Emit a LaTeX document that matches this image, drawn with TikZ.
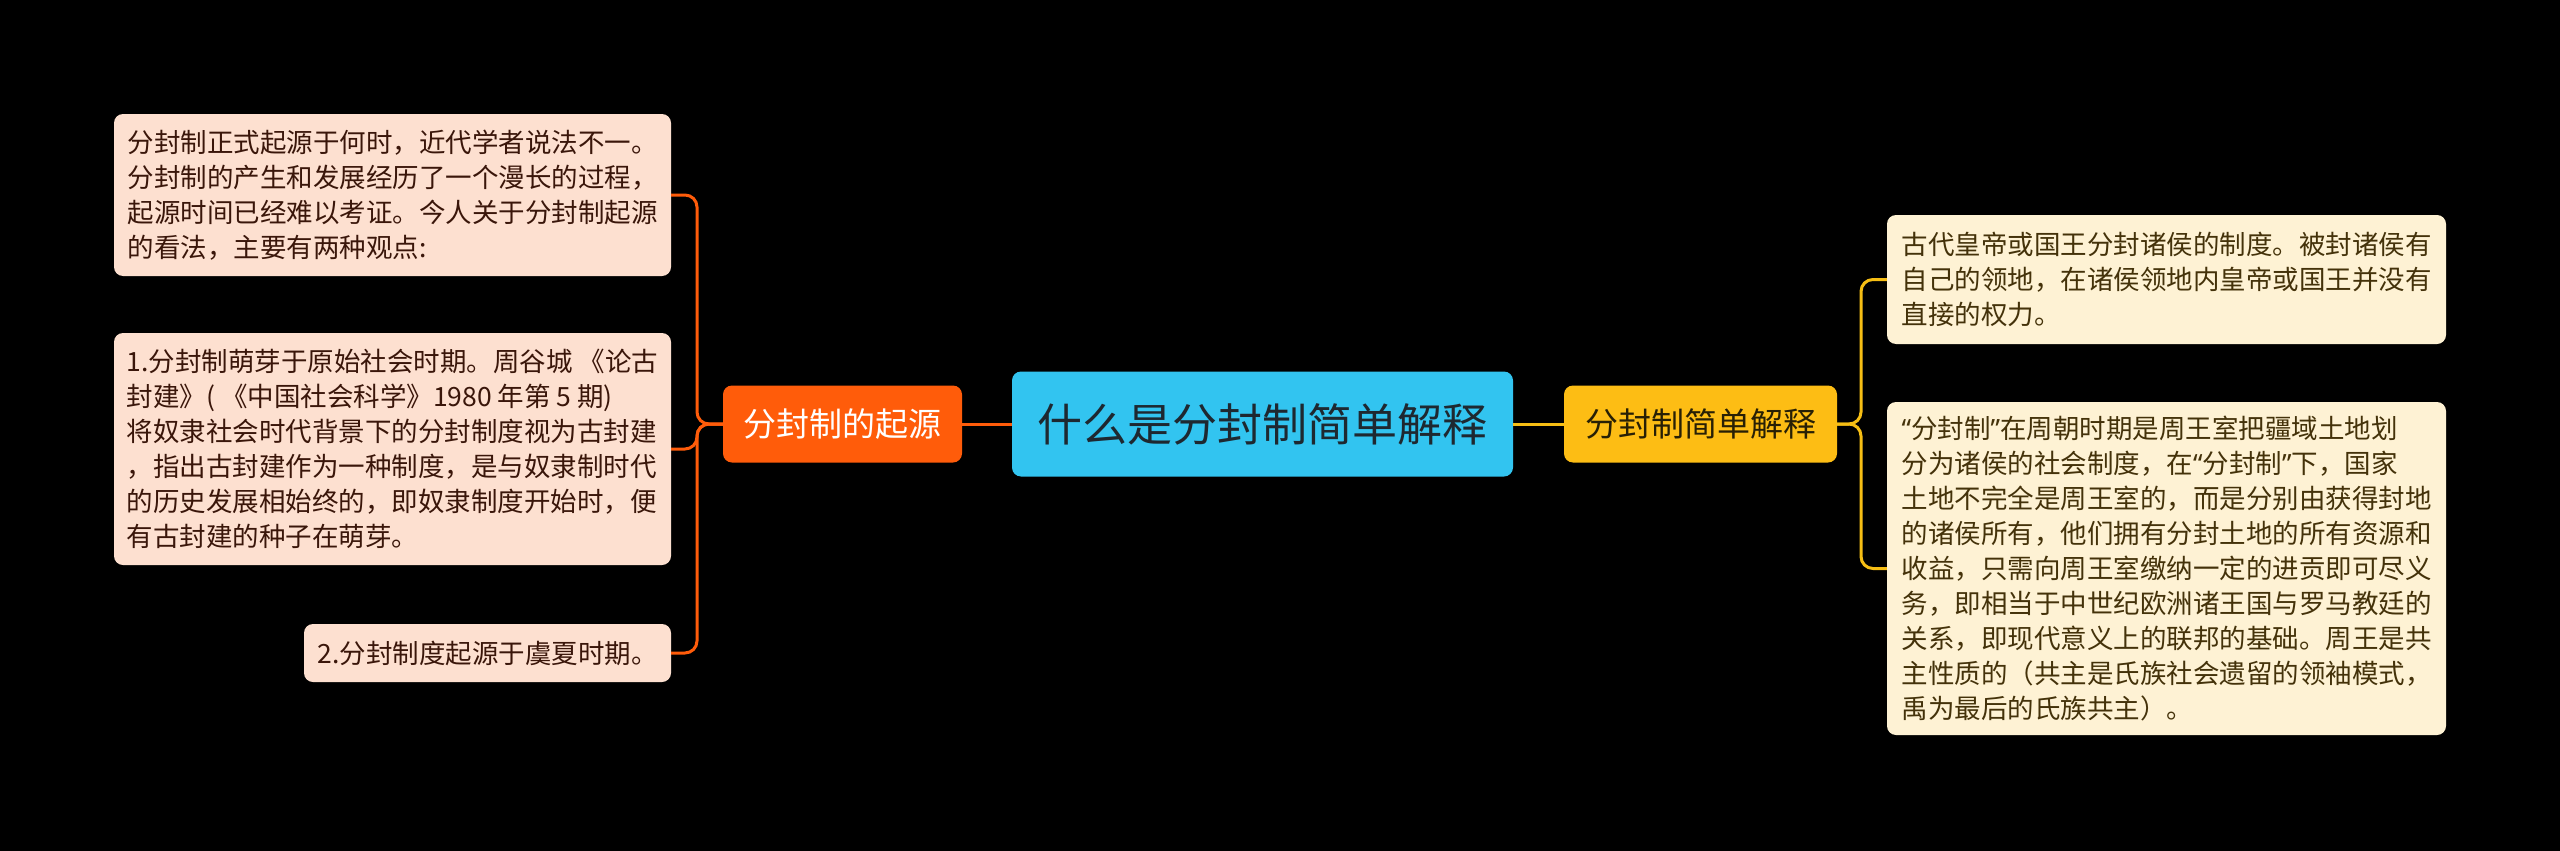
\documentclass[tikz,border=0pt]{standalone}
\usepackage{fontspec}
\newfontfamily\cjk{Noto Sans CJK SC}
\newfontfamily\latq{Noto Sans}
\newcommand{\oq}{{\latq “}}
\newcommand{\cq}{{\latq ”}}
\definecolor{bg}{RGB}{0,0,0}
\definecolor{orangeA}{RGB}{255,92,10}
\definecolor{lfill}{RGB}{253,224,208}
\definecolor{ltext}{RGB}{58,22,10}
\definecolor{cfill}{RGB}{50,196,240}
\definecolor{ctext}{RGB}{30,40,48}
\definecolor{yfill}{RGB}{253,189,20}
\definecolor{ytext}{RGB}{40,32,5}
\definecolor{rfill}{RGB}{254,242,212}
\definecolor{rtext}{RGB}{68,50,10}
\definecolor{ylinec}{RGB}{246,190,20}
\begin{document}
\begin{tikzpicture}[x=1pt,y=-1pt,
  box/.style={rounded corners=9pt, align=left, inner xsep=0pt, inner ysep=0pt, font=\cjk\fontsize{26.5pt}{35pt}\selectfont},
  lbox/.style={box, fill=lfill, text=ltext},
  rbox/.style={box, fill=rfill, text=rtext},
  branch/.style={rounded corners=9pt, inner sep=0pt, minimum height=77pt, font=\cjk\fontsize{33pt}{40pt}\selectfont},
  oline/.style={draw=orangeA, line width=3pt},
  ylink/.style={draw=ylinec, line width=3pt},
]
\fill[bg] (0,0) rectangle (2560,851);
\useasboundingbox (0,0) rectangle (2560,851);

% central topic
\node[fill=cfill, rounded corners=9pt, minimum width=501pt, minimum height=105pt, inner sep=0pt,
      text=ctext, font=\cjk\fontsize{45pt}{54pt}\selectfont] (C) at (1262.5,424) {什么是分封制简单解释};

% main branches
\node[branch, fill=orangeA, text=white, minimum width=239pt] (O) at (842.5,424) {分封制的起源};
\node[branch, fill=yfill, text=ytext, minimum width=273pt] (Y) at (1700.5,424) {分封制简单解释};

% left leaves
\node[lbox, minimum width=557pt, minimum height=162pt] (L1) at (392.5,195) {分封制正式起源于何时，近代学者说法不一。\\分封制的产生和发展经历了一个漫长的过程，\\起源时间已经难以考证。今人关于分封制起源\\的看法，主要有两种观点:};
\node[lbox, minimum width=557pt, minimum height=232pt] (L2) at (392.5,449) {1.分封制萌芽于原始社会时期。周谷城~《论古\\封建》(~《中国社会科学》1980~年第~5~期)\\将奴隶社会时代背景下的分封制度视为古封建\\，指出古封建作为一种制度，是与奴隶制时代\\的历史发展相始终的，即奴隶制度开始时，便\\有古封建的种子在萌芽。};
\node[lbox, minimum width=367pt, minimum height=58pt] (L3) at (487.5,653) {2.分封制度起源于虞夏时期。};

% right leaves
\node[rbox, minimum width=559pt, minimum height=129pt] (R1) at (2166.5,279.5) {古代皇帝或国王分封诸侯的制度。被封诸侯有\\自己的领地，在诸侯领地内皇帝或国王并没有\\直接的权力。};
\node[rbox, minimum width=559pt, minimum height=333pt] (R2) at (2166.5,568.5) {\oq 分封制\cq 在周朝时期是周王室把疆域土地划\\分为诸侯的社会制度，在\oq 分封制\cq 下，国家\\土地不完全是周王室的，而是分别由获得封地\\的诸侯所有，他们拥有分封土地的所有资源和\\收益，只需向周王室缴纳一定的进贡即可尽义\\务，即相当于中世纪欧洲诸王国与罗马教廷的\\关系，即现代意义上的联邦的基础。周王是共\\主性质的（共主是氏族社会遗留的领袖模式，\\禹为最后的氏族共主）。};

% junction points
\coordinate (lj) at (697,424);
\coordinate (rj) at (1861,424);

% connectors
\draw[oline] (C.west) -- (O.east);
\draw[ylink] (C.east) -- (Y.west);
\draw[oline, rounded corners=12pt] (O.west) -- (lj) |- (L1.east);
\draw[oline, rounded corners=12pt] (O.west) -- (lj) |- (L2.east);
\draw[oline, rounded corners=12pt] (O.west) -- (lj) |- (L3.east);
\draw[ylink, rounded corners=12pt] (Y.east) -- (rj) |- (R1.west);
\draw[ylink, rounded corners=12pt] (Y.east) -- (rj) |- (R2.west);
\end{tikzpicture}
\end{document}
